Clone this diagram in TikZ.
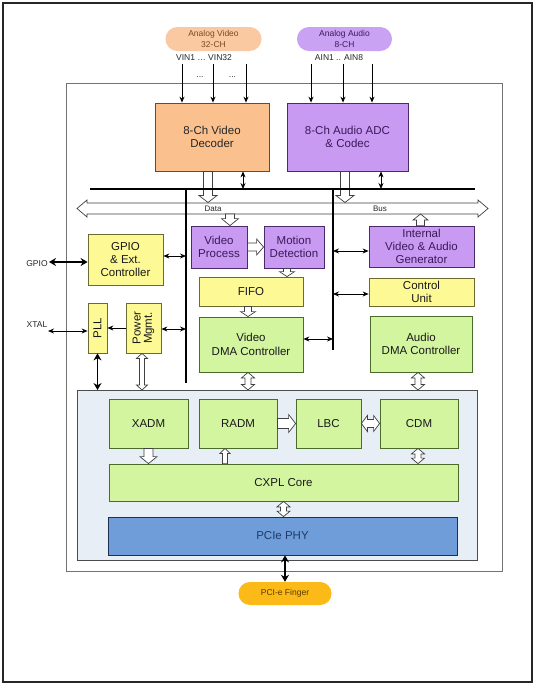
\documentclass[tikz,border=0pt]{standalone}
\usepackage{fontspec}
\setmainfont{Liberation Sans}
\usepackage{graphicx}
\usetikzlibrary{arrows.meta,calc}
\definecolor{cPeach}{HTML}{FAC18E}
\definecolor{cPeachL}{HTML}{FAC9A2}
\definecolor{cPeachD}{HTML}{6B4A2B}
\definecolor{cPeachT}{HTML}{7A4A20}
\definecolor{cPurp}{HTML}{C99AF2}
\definecolor{cPurpL}{HTML}{C9A2F4}
\definecolor{cPurpD}{HTML}{4B2A6B}
\definecolor{cPurpT}{HTML}{3A1A5A}
\definecolor{cYel}{HTML}{FDF995}
\definecolor{cYelD}{HTML}{6B6A30}
\definecolor{cGrn}{HTML}{D3F5A0}
\definecolor{cGrnD}{HTML}{4A6B2A}
\definecolor{cBlue}{HTML}{6F9DDA}
\definecolor{cBlueD}{HTML}{1F2F4F}
\definecolor{cBlueT}{HTML}{1F3A68}
\definecolor{cReg}{HTML}{E8EEF6}
\definecolor{cFing}{HTML}{FBBA18}
\definecolor{cFingT}{HTML}{5A3A00}
\tikzset{
  box/.style={draw, line width=0.8pt, inner sep=0pt, align=center,
    font=\fontsize{11.5}{13.3}\selectfont},
  peachbox/.style={box, fill=cPeach, draw=cPeachD, text=black!85},
  purpbox/.style={box, fill=cPurp, draw=cPurpD, text=cPurpT},
  yelbox/.style={box, fill=cYel, draw=cYelD, text=black!90},
  grnbox/.style={box, fill=cGrn, draw=cGrnD, text=black!90},
  pill/.style={draw=none, rounded corners=11.9pt, inner sep=0pt, align=center,
    minimum width=96, minimum height=24, font=\fontsize{8.5}{11}\selectfont},
  lab/.style={inner sep=0pt, font=\fontsize{8.5}{10}\selectfont, text=black!85},
  hollowst/.style={draw=black!75, fill=white, line width=0.7pt, line join=miter},
  bsingle/.style={line width=0.8pt, black, -{Stealth[length=6pt,width=5pt]}},
  bdbl/.style={line width=0.8pt, black, {Stealth[length=6pt,width=5pt]}-{Stealth[length=6pt,width=5pt]}},
  bigdbl/.style={line width=1.8pt, black, {Stealth[length=7pt,width=8pt]}-{Stealth[length=7pt,width=8pt]}},
  busline/.style={line width=1.6pt, black}
}
% hollow single arrow: from #1 to tip #2, shaft half #3, head half #4, head length #5
\newcommand\hsingle[5]{%
 \draw[hollowst] let \p1=(#1), \p2=(#2), \n1={veclen(\x2-\x1,\y2-\y1)},
   \n2={(\x2-\x1)/\n1}, \n3={(\y2-\y1)/\n1} in
 ({\x1-(\n3)*(#3)},{\y1+(\n2)*(#3)})
 -- ({\x2-(\n2)*(#5)-(\n3)*(#3)},{\y2-(\n3)*(#5)+(\n2)*(#3)})
 -- ({\x2-(\n2)*(#5)-(\n3)*(#4)},{\y2-(\n3)*(#5)+(\n2)*(#4)})
 -- (\x2,\y2)
 -- ({\x2-(\n2)*(#5)+(\n3)*(#4)},{\y2-(\n3)*(#5)-(\n2)*(#4)})
 -- ({\x2-(\n2)*(#5)+(\n3)*(#3)},{\y2-(\n3)*(#5)-(\n2)*(#3)})
 -- ({\x1+(\n3)*(#3)},{\y1-(\n2)*(#3)}) -- cycle;}
% hollow double arrow
\newcommand\hdouble[5]{%
 \draw[hollowst] let \p1=(#1), \p2=(#2), \n1={veclen(\x2-\x1,\y2-\y1)},
   \n2={(\x2-\x1)/\n1}, \n3={(\y2-\y1)/\n1} in
 (\x1,\y1)
 -- ({\x1+(\n2)*(#5)-(\n3)*(#4)},{\y1+(\n3)*(#5)+(\n2)*(#4)})
 -- ({\x1+(\n2)*(#5)-(\n3)*(#3)},{\y1+(\n3)*(#5)+(\n2)*(#3)})
 -- ({\x2-(\n2)*(#5)-(\n3)*(#3)},{\y2-(\n3)*(#5)+(\n2)*(#3)})
 -- ({\x2-(\n2)*(#5)-(\n3)*(#4)},{\y2-(\n3)*(#5)+(\n2)*(#4)})
 -- (\x2,\y2)
 -- ({\x2-(\n2)*(#5)+(\n3)*(#4)},{\y2-(\n3)*(#5)-(\n2)*(#4)})
 -- ({\x2-(\n2)*(#5)+(\n3)*(#3)},{\y2-(\n3)*(#5)-(\n2)*(#3)})
 -- ({\x1+(\n2)*(#5)+(\n3)*(#3)},{\y1+(\n3)*(#5)-(\n2)*(#3)})
 -- ({\x1+(\n2)*(#5)+(\n3)*(#4)},{\y1+(\n3)*(#5)-(\n2)*(#4)})
 -- cycle;}
\begin{document}
\begin{tikzpicture}[x=1pt,y=-1pt]
\useasboundingbox (0,0) rectangle (536,686);
\fill[white] (0,0) rectangle (536,686);
% frames
\draw[line width=1.4pt, black!85] (3,3) rectangle (532,682);
\draw[line width=0.9pt, black!55] (66,83) rectangle (502,571);
\draw[line width=0.8pt, black!70, fill=cReg] (77,390) coordinate (regnw) rectangle (477,560);
\coordinate (region) at (277,390);

% top pills
\node[pill, fill=cPeachL, text=cPeachT] (vpill) at (213.5,39) {Analog Video\\32-CH};
\node[pill, fill=cPurpL, text=cPurpT, minimum width=95] (apill) at (344.5,39) {Analog Audio\\8-CH};
\node[lab] (vinlab) at (204,58) {VIN1 … VIN32};
\node[lab] (ainlab) at (339,58) {AIN1 .. AIN8};
\node[lab] (dots1) at (200,77) {...};
\node[lab] (dots2) at (232.5,77) {...};

% decoder boxes
\node[peachbox, minimum width=114, minimum height=68] (vdec) at (212,137) {8-Ch Video\\Decoder};
\node[purpbox, minimum width=121, minimum height=68] (adec) at (347.5,137) {8-Ch Audio ADC\\\& Codec};

\coordinate (vin1) at (182,64); \coordinate (vin2) at (213,64); \coordinate (vin3) at (246,64);
\coordinate (ain1) at (311,64); \coordinate (ain2) at (343,64); \coordinate (ain3) at (372,64);
\foreach \c in {vin1,vin2,vin3} \draw[bsingle, line width=1pt] (\c) -- (\c |- vdec.north);
\foreach \c in {ain1,ain2,ain3} \draw[bsingle, line width=1pt] (\c) -- (\c |- adec.north);

% bus coordinates
\coordinate (bl1) at (90,189); \coordinate (bl2) at (475,189);
\coordinate (bustop) at (0,202.5); \coordinate (busbot) at (0,214);
\coordinate (busL) at (77,208.5); \coordinate (busR) at (488,208.5);
\coordinate (va1) at (186,189); \coordinate (va2) at (186,383);
\coordinate (vb1) at (333,189); \coordinate (vb2) at (333,350);

% data bus
\hdouble{busL}{busR}{5.5pt}{8.5pt}{10pt}
\node[lab, font=\fontsize{8}{9}\selectfont] (datalab) at (213,208.8) {Data};
\node[lab, font=\fontsize{8}{9}\selectfont] (buslab) at (380,208.8) {Bus};

% hollow arrows decoder -> bus
\coordinate (h1) at ([xshift=-4pt]vdec.south);
\hsingle{h1}{h1 |- bustop}{4.5pt}{9pt}{7pt}
\coordinate (h2) at ([xshift=-2.5pt]adec.south);
\hsingle{h2}{h2 |- bustop}{4.5pt}{9pt}{7pt}

% bus lines
\draw[busline] (bl1) -- (bl2);
\draw[line width=1.5pt] (va1) -- (va2);
\draw[line width=1.5pt] (vb1) -- (vb2);
\draw[bdbl] ([xshift=31pt]vdec.south) -- ([xshift=31pt]vdec.south |- bl1);
\draw[bdbl] ([xshift=33.5pt]adec.south) -- ([xshift=33.5pt]adec.south |- bl1);

% middle blocks
\node[purpbox, minimum width=56, minimum height=42] (vproc) at (219,247) {Video\\Process};
\node[purpbox, minimum width=60, minimum height=42] (motion) at (294,247) {Motion\\Detection};
\node[purpbox, minimum width=105, minimum height=41] (gen) at (421.5,246.5) {Internal\\Video \& Audio\\Generator};
\node[yelbox, minimum width=105, minimum height=28, font=\fontsize{11.5}{12.5}\selectfont] (ctrl) at (421.5,292) {Control\\Unit};
\node[grnbox, minimum width=102, minimum height=56] (adma) at (421,344) {Audio\\DMA Controller};
\node[yelbox, minimum width=104, minimum height=29] (fifo) at (251,291.5) {FIFO};
\node[grnbox, minimum width=104, minimum height=55] (vdma) at (251,344.5) {Video\\DMA Controller};
\node[yelbox, minimum width=75, minimum height=51] (gpio) at (125.5,259.5) {GPIO\\\& Ext.\\Controller};
\node[yelbox, minimum width=19, minimum height=50] (pll) at (97.5,328) {\rotatebox{90}{PLL}};
\node[yelbox, minimum width=35, minimum height=50] (pwr) at (143.5,328) {\rotatebox{90}{\begin{tabular}{@{}c@{}}Power\\[-2pt]Mgmt.\end{tabular}}};

% hollow arrows middle
\coordinate (h3) at ([xshift=11pt]vproc.north);
\hsingle{h3 |- busbot}{h3}{4.5pt}{8.5pt}{7pt}
\coordinate (h4) at ([xshift=-1pt]gen.north);
\hsingle{h4}{h4 |- busbot}{4pt}{7.5pt}{6pt}
\hsingle{vproc.east}{motion.west}{4pt}{8pt}{7pt}
\coordinate (h6) at ([xshift=-7pt]motion.south);
\hsingle{h6}{h6 |- fifo.north}{3.5pt}{7.5pt}{5pt}
\coordinate (h7) at ([xshift=-3pt]fifo.south);
\hsingle{h7}{h7 |- vdma.north}{3.5pt}{7.5pt}{5pt}
\coordinate (h8) at ([xshift=-3pt]vdma.south);
\hdouble{h8}{h8 |- region}{3pt}{6.5pt}{5.5pt}
\coordinate (h9) at ([xshift=-3pt]adma.south);
\hdouble{h9}{h9 |- region}{3pt}{6.5pt}{5.5pt}
\coordinate (h10) at ([xshift=-1.5pt]pwr.south);
\hdouble{h10}{h10 |- region}{2.5pt}{5.5pt}{5pt}

% black connectors middle
\draw[bdbl] ([yshift=3.5pt]gpio.east) -- ([yshift=3.5pt]gpio.east -| va1);
\coordinate (gpioend) at (49,262);
\node[lab] (gpiolab) at (37,264) {GPIO};
\draw[bigdbl] (gpioend) -- (gpioend -| gpio.west);
\coordinate (xtalend) at (48,331);
\node[lab] (xtallab) at (37,325) {XTAL};
\draw[bdbl] (xtalend) -- (xtalend -| pll.west);
\draw[bsingle] (pwr.west) -- (pll.east);
\draw[bdbl] ([yshift=-1pt]pwr.east) -- ([yshift=-1pt]pwr.east -| va1);
\draw[bigdbl, line width=1.5pt] (pll.south) -- (pll.south |- region);
\draw[bdbl] ([yshift=-4.5pt]gen.west) -- ([yshift=-4.5pt]gen.west -| vb1);
\draw[bdbl] ([yshift=-2pt]ctrl.west) -- ([yshift=-2pt]ctrl.west -| vb1);
\draw[bdbl] ([yshift=5.5pt]vdma.east) -- ([yshift=5.5pt]vdma.east -| vb1);

% PCIe region blocks
\node[grnbox, minimum width=79, minimum height=49] (xadm) at (148.5,423.5) {XADM};
\node[grnbox, minimum width=78, minimum height=49] (radm) at (238,423.5) {RADM};
\node[grnbox, minimum width=65, minimum height=49] (lbc) at (328.5,423.5) {LBC};
\node[grnbox, minimum width=78, minimum height=49] (cdm) at (419,423.5) {CDM};
\node[grnbox, minimum width=349, minimum height=37] (cxpl) at (283.5,482.5) {CXPL Core};
\node[box, fill=cBlue, draw=cBlueD, text=cBlueT, minimum width=349, minimum height=38] (phy) at (282.5,536) {PCIe PHY};
\node[pill, fill=cFing, text=cFingT, minimum width=93, minimum height=23, rounded corners=11.4pt] (finger) at (285,593.5) {PCI-e Finger};

\hsingle{xadm.south}{xadm.south |- cxpl.north}{4.5pt}{8.5pt}{7pt}
\coordinate (h12) at ([xshift=-13pt]radm.south);
\hsingle{h12 |- cxpl.north}{h12}{2.5pt}{5pt}{5pt}
\hsingle{radm.east}{lbc.west}{5pt}{9pt}{7pt}
\hdouble{lbc.east}{cdm.west}{4pt}{8pt}{6pt}
\coordinate (h15) at ([xshift=-1pt]cdm.south);
\hdouble{h15}{h15 |- cxpl.north}{3pt}{6.5pt}{5.5pt}
\hdouble{cxpl.south}{cxpl.south |- phy.north}{3pt}{6.5pt}{5.5pt}
\draw[bigdbl, line width=1.6pt] (phy.south -| finger.north) -- (finger.north);
\end{tikzpicture}
\end{document}
